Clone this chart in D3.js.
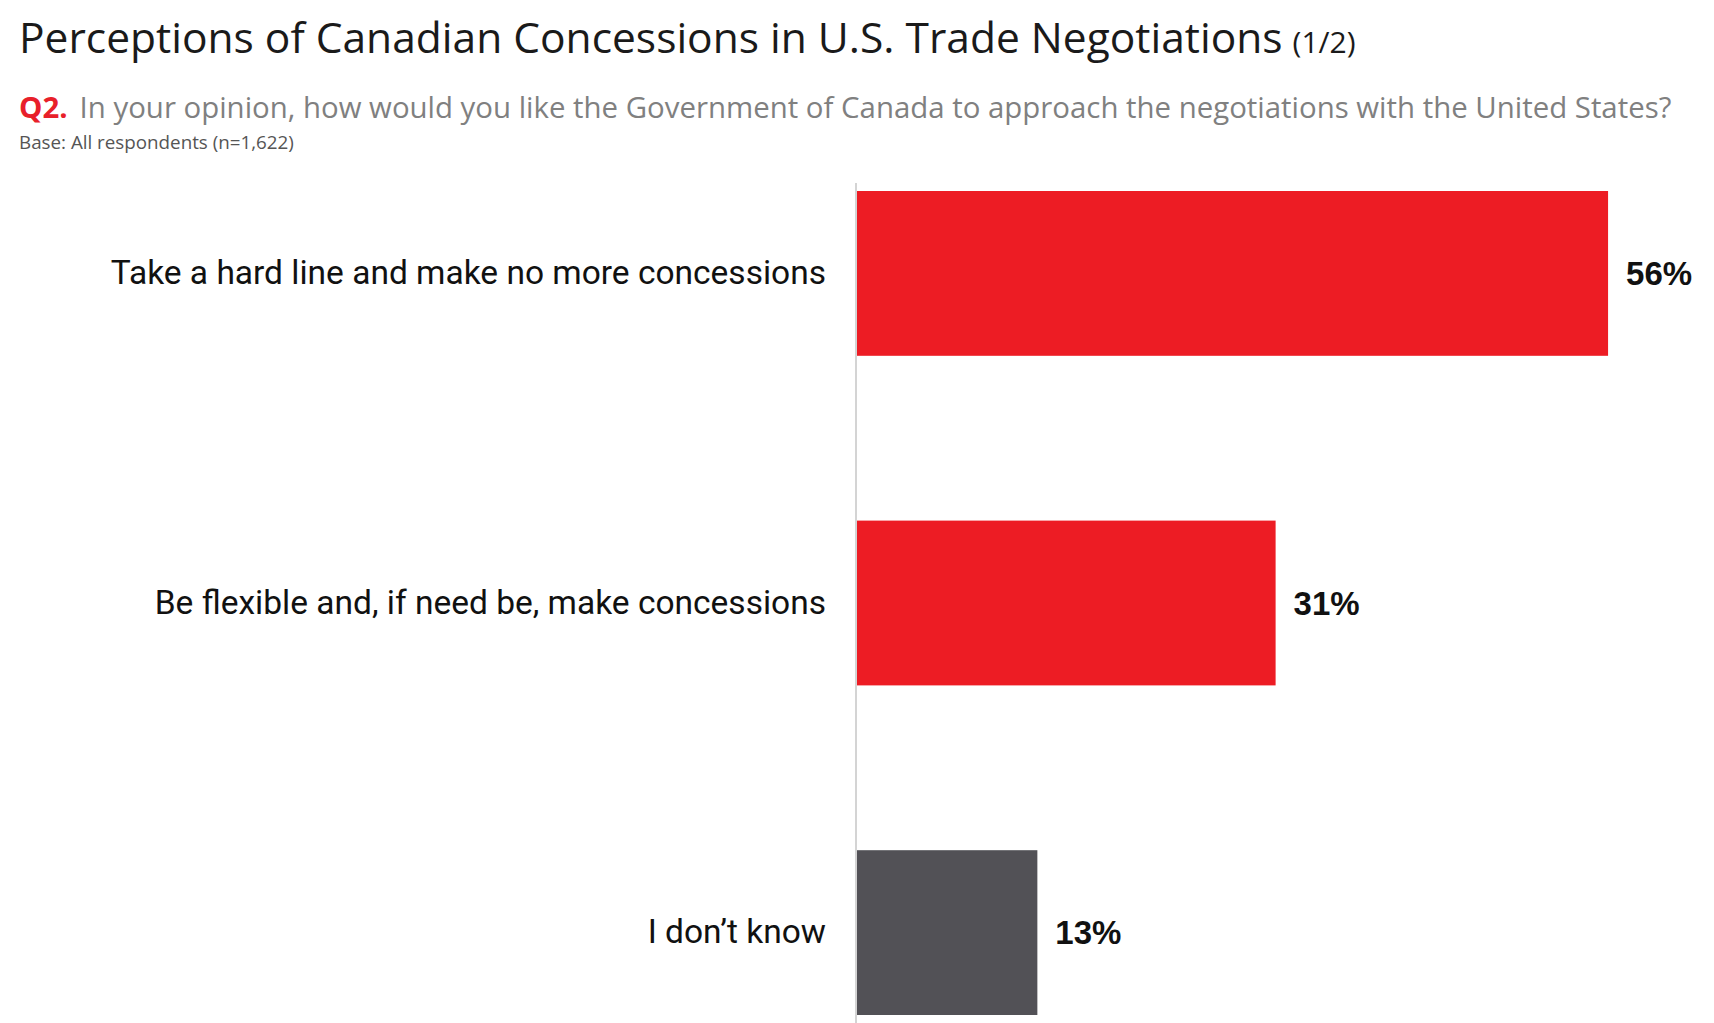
<!DOCTYPE html>
<html>
<head>
<meta charset="utf-8">
<script src="https://cdn.jsdelivr.net/npm/d3@7"></script>
<style>
  html, body { margin: 0; padding: 0; background: #ffffff; }
  svg { display: block; }
</style>
</head>
<body>
<script>
// ---- data ----
const categories = [
  "Take a hard line and make no more concessions",
  "Be flexible and, if need be, make concessions",
  "I don\u2019t know"
];
const values = [55.8, 31.1, 13.4];
const barColors = ["#ED1C24", "#ED1C24", "#525156"];
const titleText = "Perceptions of Canadian Concessions in U.S. Trade Negotiations";
const titleSuffix = "(1/2)";
const questionLabel = "Q2.";
const questionText = "In your opinion, how would you like the Government of Canada to approach the negotiations with the United States?";
const baseText = "Base: All respondents (n=1,622)";

// ---- layout ----
const W = 1714, H = 1023;
const svg = d3.select("body").append("svg").attr("width", W).attr("height", H);
svg.append("rect").attr("width", W).attr("height", H).attr("fill", "#fff");

const fontMain = "'Open Sans', Lato, sans-serif";
const fontLabel = "Roboto, 'Liberation Sans', sans-serif";

// Title
const title = svg.append("text")
  .attr("x", 19).attr("y", 53)
  .attr("font-family", fontMain)
  .attr("fill", "#1a1a1a");
title.append("tspan").attr("font-size", 42.5).text(titleText);
title.append("tspan").attr("font-size", 30).attr("dx", 10).text(titleSuffix);

// Question
const q = svg.append("text")
  .attr("x", 19).attr("y", 118)
  .attr("font-family", fontMain)
  .attr("font-size", 29.4);
q.append("tspan").attr("fill", "#E8202A").attr("font-weight", "bold").text(questionLabel);
q.append("tspan").attr("fill", "#808080").attr("dx", 12).text(questionText);

svg.append("text")
  .attr("x", 19).attr("y", 149)
  .attr("font-family", fontMain)
  .attr("font-size", 18.8)
  .attr("fill", "#555")
  .text(baseText);

// Scales
const y = d3.scaleBand().domain(categories).range([191, 1015]).paddingInner(0.5).paddingOuter(0);
const x = d3.scaleLinear().domain([0, 100]).range([857, 2203]);

// Axis baseline
svg.append("line")
  .attr("x1", 856).attr("x2", 856)
  .attr("y1", 183).attr("y2", H)
  .attr("stroke", "#d4d4d4").attr("stroke-width", 2);

// Category labels via axis
const yAxis = d3.axisLeft(y).tickSize(0).tickPadding(31);
const ag = svg.append("g").attr("transform", `translate(${x(0)},0)`).call(yAxis);
ag.select(".domain").remove();
ag.selectAll("text")
  .attr("font-family", fontLabel)
  .attr("font-size", 33.5)
  .attr("fill", "#111");

const data = categories.map((c, i) => ({ c, v: values[i], color: barColors[i] }));

// Bars
svg.selectAll("rect.bar").data(data).join("rect")
  .attr("class", "bar")
  .attr("x", x(0))
  .attr("y", d => y(d.c))
  .attr("width", d => x(d.v) - x(0))
  .attr("height", y.bandwidth())
  .attr("fill", d => d.color);

// Value labels
const fmt = d3.format(".0f");
svg.selectAll("text.val").data(data).join("text")
  .attr("class", "val")
  .attr("x", d => x(d.v) + 18)
  .attr("y", d => y(d.c) + y.bandwidth() / 2)
  .attr("dy", "0.36em")
  .attr("font-family", "'Liberation Sans', Arial, sans-serif")
  .attr("font-weight", "bold")
  .attr("font-size", 33)
  .attr("fill", "#111")
  .text(d => fmt(d.v) + "%");
</script>
</body>
</html>
